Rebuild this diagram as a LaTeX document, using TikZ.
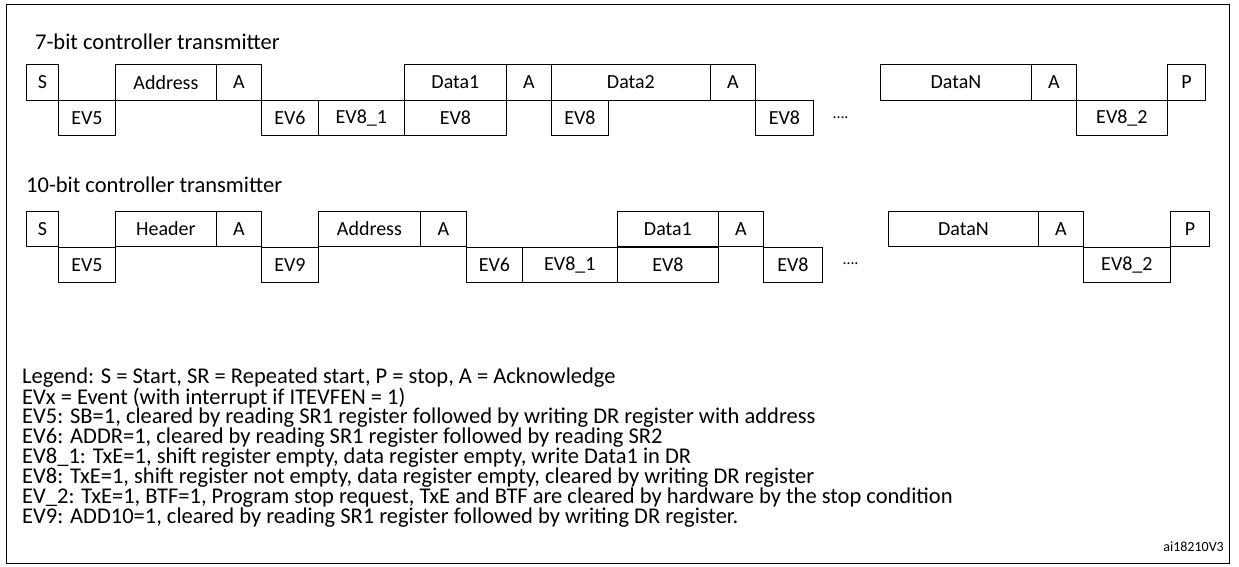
\documentclass[tikz,border=0pt]{standalone}
\usepackage{fontspec}
\setmainfont{Carlito}
\usepackage{tikz}

\begin{document}
\begin{tikzpicture}[x=1pt, y=-1pt,
box/.style={draw=black, thick, rectangle, inner sep=0pt, minimum height=35.5pt, anchor=west, font=\fontsize{20}{22}\selectfont},
txt/.style={anchor=west, inner sep=0pt, font=\fontsize{22.5}{24}\selectfont}
]
\useasboundingbox (0,0) rectangle (1239,567);
\draw[thick] (6,4) rectangle (1229,563);

%Titles
\node[txt] (t7)  at (35,42)  {7-bit controller transmitter};
\node[txt] (t10) at (26,185) {10-bit controller transmitter};

%7-bit, upper slots
\foreach \name/\xa/\xb/\lbl in {sa/26/58/S, sb/115/216/Address, sc/216/261/A, sd/404/506/Data1,
  se/506/551/A, sf/551/710/Data2, sg/710/755/A, sh/880/1031/DataN, si/1031/1076/A, sj/1167/1205/P}
  \node[box, minimum width=\xb pt-\xa pt] (\name) at (\xa,82.5) {\lbl};
%7-bit, lower slots
\foreach \name/\xa/\xb/\lbl in {ea/58/115/EV5, eb/261/318/EV6, ec/318/404/EV8\_1, ed/404/506/EV8,
  ee/551/608/EV8, ef/755/813/EV8, eg/1076/1167/EV8\_2}
  \node[box, minimum width=\xb pt-\xa pt] (\name) at (\xa,118) {\lbl};
\node[txt, font=\fontsize{16}{18}\selectfont] (dots7) at (833,118) {\dots.};

%10-bit, upper slots
\foreach \name/\xa/\xb/\lbl in {ta/26/58/S, tb/115/216/Header, tc/216/261/A, td/318/420/Address,
  te/420/466/A, tf/617/718/Data1, tg/718/763/A, th/888/1038/DataN, ti/1038/1083/A, tj/1170/1209/P}
  \node[box, minimum width=\xb pt-\xa pt] (\name) at (\xa,229) {\lbl};
%10-bit, lower slots
\foreach \name/\xa/\xb/\lbl in {fa/58/115/EV5, fb/261/318/EV9, fc/466/522/EV6, fd/522/617/EV8\_1,
  fe/617/718/EV8, ff/763/822/EV8, fg/1083/1170/EV8\_2}
  \node[box, minimum width=\xb pt-\xa pt] (\name) at (\xa,265) {\lbl};
\node[txt, font=\fontsize{16}{18}\selectfont] (dots10) at (843,264) {\dots.};

%Legend
\node[txt] (l1) at (22,378) {Legend: S = Start, SR = Repeated start, P = stop, A = Acknowledge};
\node[txt] (l2) at (22,398) {EVx = Event (with interrupt if ITEVFEN = 1)};
\node[txt] (l3) at (22,418) {EV5: SB=1, cleared by reading SR1 register followed by writing DR register with address};
\node[txt] (l4) at (22,438) {EV6: ADDR=1, cleared by reading SR1 register followed by reading SR2};
\node[txt] (l5) at (22,458) {EV8\_1: TxE=1, shift register empty, data register empty, write Data1 in DR};
\node[txt] (l6) at (22,478) {EV8: TxE=1, shift register not empty, data register empty, cleared by writing DR register};
\node[txt] (l7) at (22,498) {EV\_2: TxE=1, BTF=1, Program stop request, TxE and BTF are cleared by hardware by the stop condition};
\node[txt] (l8) at (22,518) {EV9: ADD10=1, cleared by reading SR1 register followed by writing DR register.};
\node[anchor=east, inner sep=0pt, font=\fontsize{14}{16}\selectfont] (id) at (1224,547) {ai18210V3};
\end{tikzpicture}
\end{document}
